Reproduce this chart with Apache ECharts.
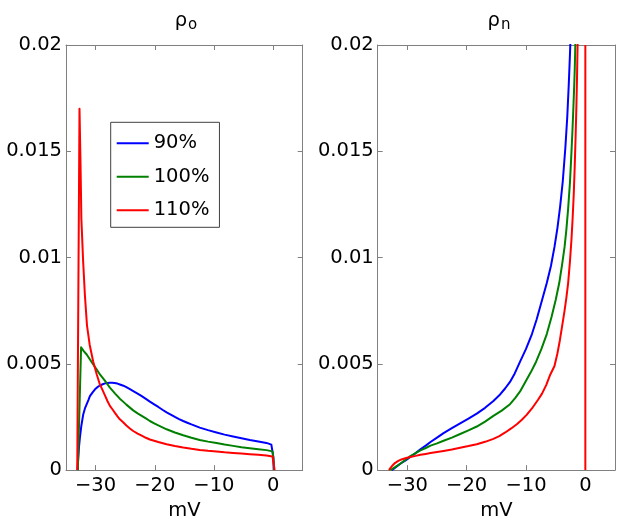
<!DOCTYPE html>
<html>
<head>
<meta charset="utf-8">
<script src="https://cdn.jsdelivr.net/npm/echarts@6/dist/echarts.min.js"></script>
<style>html,body{margin:0;padding:0;background:#fff;}#c{width:624px;height:526px;}</style>
</head>
<body>
<div id="c"></div>
<script>
// ---- data ----
var seriesNames = ['90%', '100%', '110%'];
var xTicks = [-30, -20, -10, 0];
var yTicks = [0, 0.005, 0.01, 0.015, 0.02];

// left panel: rho_o  [mV, value]
var rhoO_90 = [[-33.05,0],[-32.95,0.0005],[-32.8,0.0011],[-32.65,0.00153],[-32.4,0.0021],[-32.08,0.00263],[-31.8,0.0029],[-31.5,0.0031],[-31.2,0.0033],[-30.96,0.00348],[-30.5,0.00366],[-30.1,0.0038],[-29.7,0.0039],[-29.27,0.00398],[-28.8,0.00404],[-28.4,0.00408],[-28.0,0.0041],[-27.58,0.00411],[-27.2,0.00411],[-26.8,0.0041],[-26.3,0.00407],[-25.9,0.00403],[-25.3,0.00397],[-24.8,0.0039],[-24.2,0.00381],[-23.64,0.00372],[-22.9,0.0036],[-22.2,0.00348],[-21.5,0.00335],[-20.83,0.00322],[-20.1,0.00309],[-19.4,0.00297],[-18.7,0.00284],[-18.0,0.00272],[-17.3,0.00261],[-16.6,0.0025],[-15.9,0.0024],[-15.2,0.00231],[-14.5,0.00223],[-13.8,0.00215],[-12.4,0.002],[-11.0,0.00188],[-9.57,0.00177],[-8.2,0.00167],[-6.76,0.00158],[-5.35,0.0015],[-3.94,0.00142],[-2.5,0.00135],[-1.13,0.00128],[-0.3,0.0012],[0.0,0.00112],[0.05,0.0006],[0.1,0]];
var rhoO_100 = [[-33.0,0],[-32.45,0.00578],[-32.0,0.0056],[-31.5,0.00544],[-30.95,0.0052],[-30.4,0.00497],[-29.8,0.00473],[-29.27,0.0045],[-28.8,0.00434],[-28.4,0.0042],[-28.0,0.00404],[-27.58,0.00388],[-27.1,0.00373],[-26.7,0.0036],[-26.3,0.00348],[-25.9,0.00336],[-25.3,0.00321],[-24.8,0.00308],[-24.2,0.00294],[-23.64,0.00281],[-22.9,0.00267],[-22.2,0.00255],[-21.5,0.00243],[-20.83,0.00231],[-20.1,0.0022],[-19.4,0.0021],[-18.7,0.00201],[-18.0,0.00192],[-16.6,0.00177],[-15.2,0.00164],[-13.8,0.00152],[-12.4,0.00142],[-11.0,0.00134],[-9.57,0.00127],[-8.2,0.0012],[-6.76,0.00114],[-5.35,0.00108],[-3.94,0.00103],[-2.5,0.00098],[-1.13,0.00094],[-0.1,0.00088],[0.1,0.0004],[0.15,0]];
var rhoO_110 = [[-33.1,0],[-32.72,0.017],[-32.55,0.0145],[-32.4,0.0118],[-32.1,0.0098],[-31.8,0.0082],[-31.45,0.0068],[-31.2,0.0063],[-31.0,0.0059],[-30.7,0.0055],[-30.4,0.0051],[-30.1,0.0048],[-29.8,0.0045],[-29.27,0.00403],[-28.8,0.00375],[-28.4,0.0035],[-28.0,0.00325],[-27.58,0.00302],[-27.1,0.00284],[-26.7,0.00268],[-26.3,0.00253],[-25.9,0.00239],[-25.3,0.00224],[-24.8,0.0021],[-24.2,0.00196],[-23.64,0.00184],[-22.9,0.00172],[-22.2,0.00162],[-21.5,0.00152],[-20.83,0.00144],[-19.4,0.00132],[-18.0,0.00122],[-16.6,0.00113],[-15.2,0.00106],[-13.8,0.001],[-12.4,0.00095],[-11.0,0.00091],[-9.57,0.00088],[-8.2,0.00084],[-6.76,0.00081],[-5.35,0.00078],[-3.94,0.00075],[-2.5,0.00072],[-1.13,0.00069],[-0.1,0.00064],[0.15,0.0002],[0.25,0]];

// right panel: rho_n  [mV, value]
var rhoN_90 = [[-32.6,0],[-32.0,0.00012],[-31.2,0.0003],[-30.3,0.00046],[-29.5,0.00062],[-28.6,0.0008],[-27.8,0.00098],[-26.9,0.00115],[-26.1,0.00132],[-25.0,0.00153],[-23.9,0.00174],[-22.5,0.00197],[-21.1,0.0022],[-19.7,0.00242],[-18.3,0.00266],[-16.9,0.00293],[-15.5,0.00325],[-14.5,0.00352],[-13.5,0.00385],[-12.7,0.00415],[-11.9,0.00455],[-11.0,0.0051],[-10.0,0.0057],[-9.0,0.0064],[-8.2,0.0071],[-7.2,0.0081],[-6.5,0.0088],[-5.8,0.0096],[-5.2,0.0105],[-4.7,0.0114],[-4.25,0.0124],[-3.8,0.0136],[-3.36,0.0152],[-3.05,0.0166],[-2.8,0.0181],[-2.6,0.0195],[-2.5,0.0203]];
var rhoN_100 = [[-32.85,0],[-32.2,0.00012],[-31.2,0.0003],[-30.3,0.00049],[-29.5,0.00066],[-28.6,0.0008],[-27.8,0.00093],[-26.9,0.00104],[-26.1,0.00115],[-25.0,0.00126],[-23.9,0.00138],[-22.5,0.00153],[-21.1,0.0017],[-19.7,0.00187],[-18.3,0.00205],[-16.9,0.00228],[-15.5,0.00255],[-14.1,0.0028],[-12.7,0.0031],[-11.8,0.0034],[-11.0,0.0037],[-10.0,0.0042],[-9.2,0.0046],[-8.3,0.0051],[-7.4,0.0057],[-6.5,0.0064],[-5.7,0.0072],[-5.0,0.008],[-4.4,0.0088],[-3.9,0.0097],[-3.5,0.0105],[-3.2,0.0113],[-2.9,0.0123],[-2.6,0.0135],[-2.4,0.0146],[-2.2,0.0158],[-2.05,0.0168],[-1.9,0.0179],[-1.78,0.0189],[-1.68,0.0201]];
var rhoN_110 = [[-33.1,0],[-32.8,0.00012],[-32.5,0.00022],[-32.1,0.00033],[-31.6,0.00042],[-31.0,0.0005],[-30.2,0.00057],[-29.5,0.00062],[-28.6,0.00067],[-27.8,0.00072],[-26.9,0.00076],[-26.1,0.0008],[-25.0,0.00085],[-23.9,0.0009],[-22.5,0.00097],[-21.1,0.00105],[-19.7,0.00113],[-18.3,0.00122],[-16.9,0.00133],[-15.5,0.00147],[-14.5,0.0016],[-13.5,0.00177],[-12.5,0.00196],[-11.5,0.00217],[-10.7,0.00237],[-9.9,0.0026],[-9.0,0.0029],[-8.0,0.0033],[-7.3,0.0036],[-6.6,0.004],[-5.9,0.0045],[-5.2,0.0049],[-4.7,0.0055],[-4.3,0.0061],[-3.9,0.0068],[-3.5,0.0075],[-3.2,0.0081],[-2.9,0.0088],[-2.6,0.0098],[-2.35,0.0108],[-2.15,0.0118],[-1.95,0.013],[-1.8,0.0142],[-1.65,0.0156],[-1.5,0.0172],[-1.4,0.0185],[-1.3,0.0201]];
var rhoN_110_jump = [[0,0.02],[0,0]];

var colors = ['#0000ff', '#008000', '#ff0000'];
var FONT = 'DejaVu Sans';
var FS = 19.5;
var AX = '#808080';

function xfmt(v){ return v < 0 ? '\u2212' + Math.abs(v) : String(v); }
function yfmt(v){ return v === 0 ? '0' : String(+v.toFixed(3)); }

function xAx(grid, pos, labels){
  return {
    type:'value', gridIndex:grid, position:pos, min:-35, max:5,
    axisLine:{show:true, onZero:false, lineStyle:{color:AX, width:1}},
    axisTick:{show:true, inside:true, length:5, customValues:xTicks, lineStyle:{color:AX}},
    axisLabel:{show:labels, customValues:xTicks, formatter:xfmt, margin:6, color:'#000', fontFamily:FONT, fontSize:FS},
    splitLine:{show:false},
    name: labels ? 'mV' : '', nameLocation:'middle', nameGap:28,
    nameTextStyle:{color:'#000', fontFamily:FONT, fontSize:FS}
  };
}
function yAx(grid, pos, labels){
  return {
    type:'value', gridIndex:grid, position:pos, min:0, max:0.02, interval:0.005,
    axisLine:{show:true, onZero:false, lineStyle:{color:AX, width:1}},
    axisTick:{show:true, inside:true, length:5, lineStyle:{color:AX}},
    axisLabel:{show:labels, formatter:yfmt, margin:4, color:'#000', fontFamily:FONT, fontSize:FS},
    splitLine:{show:false}
  };
}
function line(name, data, xi, yi, c){
  return {type:'line', name:name, data:data, xAxisIndex:xi, yAxisIndex:yi, showSymbol:false, symbol:'none',
    lineStyle:{color:c, width:2, join:'round'}, itemStyle:{color:c}, clip:true, animation:false};
}
var titleRich = {
  a:{fontFamily:FONT, fontSize:FS, fontWeight:'normal', color:'#000'},
  b:{fontFamily:FONT, fontSize:15, fontWeight:'normal', color:'#000', padding:[10,0,0,1]}
};

var chart = echarts.init(document.getElementById('c'), null, {renderer:'canvas'});
chart.setOption({
  backgroundColor:'#fff',
  animation:false,
  title:[
    {text:'{a|ρ}{b|o}', left:181, top:3, textAlign:'center', textStyle:{fontWeight:'normal', rich:titleRich}},
    {text:'{a|ρ}{b|n}', left:494, top:3, textAlign:'center', textStyle:{fontWeight:'normal', rich:titleRich}}
  ],
  grid:[
    {left:66, top:45, width:236.7, height:427.7, containLabel:false},
    {left:377.7, top:45, width:237.3, height:427.7, containLabel:false}
  ],
  xAxis:[xAx(0,'bottom',true), xAx(0,'top',false), xAx(1,'bottom',true), xAx(1,'top',false)],
  yAxis:[yAx(0,'left',true), yAx(0,'right',false), yAx(1,'left',true), yAx(1,'right',false)],
  legend:{
    data:seriesNames, orient:'vertical', left:110.7, top:122.3,
    icon:'path://M0,0H32V2H0Z',
    padding:[11,10,7,6], itemWidth:32, itemHeight:20, itemGap:13.5,
    borderColor:'#404040', borderWidth:1, backgroundColor:'#fff',
    selectedMode:false,
    textStyle:{color:'#000', fontFamily:FONT, fontSize:FS}
  },
  series:[
    line(seriesNames[0], rhoO_90, 0, 0, colors[0]),
    line(seriesNames[1], rhoO_100, 0, 0, colors[1]),
    line(seriesNames[2], rhoO_110, 0, 0, colors[2]),
    line(seriesNames[0], rhoN_90, 2, 2, colors[0]),
    line(seriesNames[1], rhoN_100, 2, 2, colors[1]),
    line(seriesNames[2], rhoN_110, 2, 2, colors[2]),
    line(seriesNames[2], rhoN_110_jump, 2, 2, colors[2])
  ]
});
</script>
</body>
</html>
